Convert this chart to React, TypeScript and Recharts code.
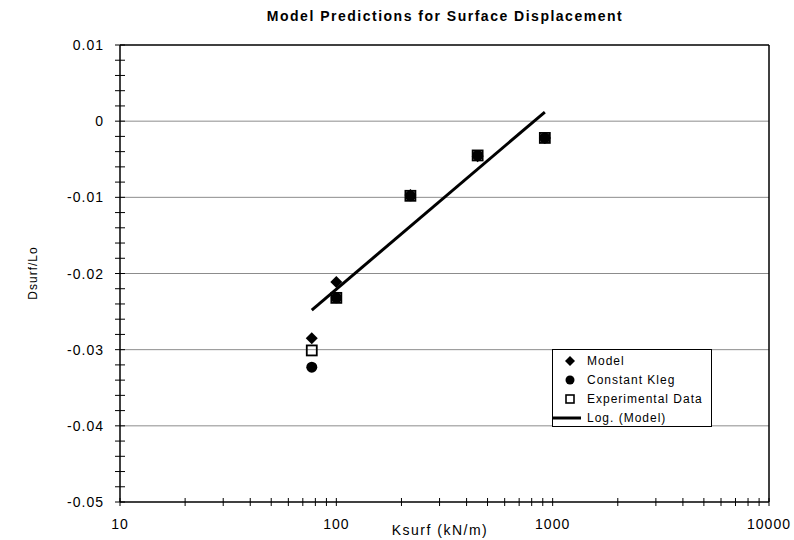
import { ScatterChart, Scatter, XAxis, YAxis, ReferenceLine } from "recharts";

// Ksurf (kN/m) of each test
const ksurf = [77, 100, 220, 450, 920];
// Dsurf/Lo
const model = [-0.0285, -0.0211, -0.0097, -0.0046, -0.0022];
const constantKleg = [-0.0323, -0.0232, -0.0098, -0.0045, -0.0022];
const experimental = [-0.0301, -0.0232, -0.0098, -0.0045, -0.0022];
// Log. (Model) trendline, ends
const trendK = [77, 920];
const trendD = [-0.0248, 0.0012];

const xTicks = [
  10, 20, 30, 40, 50, 60, 70, 80, 90,
  100, 200, 300, 400, 500, 600, 700, 800, 900,
  1000, 2000, 3000, 4000, 5000, 6000, 7000, 8000, 9000,
  10000,
];
const xMajor = [10, 100, 1000, 10000];
const yTicks = [
  0.01, 0.008, 0.006, 0.004, 0.002, 0,
  -0.002, -0.004, -0.006, -0.008, -0.01,
  -0.012, -0.014, -0.016, -0.018, -0.02,
  -0.022, -0.024, -0.026, -0.028, -0.03,
  -0.032, -0.034, -0.036, -0.038, -0.04,
  -0.042, -0.044, -0.046, -0.048, -0.05,
];
const yMajor = [0.01, 0, -0.01, -0.02, -0.03, -0.04, -0.05];
const gridLines = [0, -0.01, -0.02, -0.03, -0.04];
const legendNames = ["Model", "Constant Kleg", "Experimental Data", "Log. (Model)"];

const FONT = '"Liberation Sans", Arial, sans-serif';

const toPts = (xs: number[], ys: number[]) => xs.map((x, i) => ({ x, y: ys[i] }));

const Diamond = ({ cx, cy }: any) => (
  <path d={`M${cx},${cy - 6}L${cx + 6},${cy}L${cx},${cy + 6}L${cx - 6},${cy}Z`} fill="#000" />
);
const Dot = ({ cx, cy }: any) => <circle cx={cx} cy={cy} r={5.5} fill="#000" />;
const OpenSquare = ({ cx, cy }: any) => (
  <rect x={cx - 5} y={cy - 5} width={10} height={10} fill="none" stroke="#000" strokeWidth={1.8} />
);

const XTick = ({ x, y, payload }: any) => {
  const v = payload.value;
  const major = xMajor.includes(v);
  return (
    <g>
      <line x1={x} x2={x} y1={y - 4} y2={y + 4} stroke="#000" />
      {major && (
        <text x={x} y={y + 27} textAnchor="middle" fontSize={14} letterSpacing={1} fill="#000" fontFamily={FONT}>
          {v}
        </text>
      )}
    </g>
  );
};

const YTick = ({ x, y, payload }: any) => {
  const v = payload.value;
  const major = yMajor.some((m) => Math.abs(m - v) < 1e-9);
  return (
    <g>
      <line x1={x - 5} x2={x + 5} y1={y} y2={y} stroke="#000" />
      {major && (
        <text x={x - 16} y={y + 5} textAnchor="end" fontSize={14} letterSpacing={1} fill="#000" fontFamily={FONT}>
          {Math.abs(v) < 1e-9 ? "0" : String(Number(v.toFixed(2)))}
        </text>
      )}
    </g>
  );
};

const LegendIcon = ({ i }: { i: number }) => (
  <svg width={30} height={16} style={{ display: "block" }}>
    {i === 0 && <path d="M17,3L22,8L17,13L12,8Z" fill="#000" />}
    {i === 1 && <circle cx={17} cy={8} r={4.5} fill="#000" />}
    {i === 2 && <rect x={13} y={4} width={8} height={8} fill="none" stroke="#000" strokeWidth={1.6} />}
    {i === 3 && <line x1={0} x2={28} y1={8} y2={8} stroke="#000" strokeWidth={3} />}
  </svg>
);

export default function App() {
  return (
    <div style={{ position: "absolute", left: 0, top: 0, width: 794, height: 540, background: "#fff", fontFamily: FONT }}>
      <div style={{ position: "absolute", left: 0, width: 890, top: 8, textAlign: "center", fontSize: 14, fontWeight: "bold", letterSpacing: 1.5 }}>
        Model Predictions for Surface Displacement
      </div>
      <ScatterChart width={794} height={540} margin={{ top: 45, right: 25, bottom: 0, left: 0 }}>
        <XAxis
          dataKey="x"
          type="number"
          scale="log"
          domain={[10, 10000]}
          ticks={xTicks}
          interval={0}
          allowDataOverflow
          height={38}
          tickLine={false}
          tickSize={0}
          tickMargin={0}
          tick={<XTick />}
          axisLine={{ stroke: "#000", strokeWidth: 1.5 }}
        />
        <YAxis
          dataKey="y"
          type="number"
          domain={[-0.05, 0.01]}
          ticks={yTicks}
          interval={0}
          allowDataOverflow
          width={120}
          tickLine={false}
          tickSize={0}
          tickMargin={0}
          tick={<YTick />}
          axisLine={{ stroke: "#000", strokeWidth: 1.5 }}
        />
        {gridLines.map((g) => (
          <ReferenceLine key={g} y={g} stroke="#8c8c8c" strokeWidth={1} />
        ))}
        <ReferenceLine y={0.01} stroke="#000" strokeWidth={1.5} />
        <ReferenceLine x={10000} stroke="#000" strokeWidth={1.5} />
        <Scatter
          name={legendNames[3]}
          data={toPts(trendK, trendD)}
          line={{ stroke: "#000", strokeWidth: 3 }}
          shape={() => <g />}
          isAnimationActive={false}
        />
        <Scatter name={legendNames[0]} data={toPts(ksurf, model)} shape={Diamond} isAnimationActive={false} />
        <Scatter name={legendNames[1]} data={toPts(ksurf, constantKleg)} shape={Dot} isAnimationActive={false} />
        <Scatter name={legendNames[2]} data={toPts(ksurf, experimental)} shape={OpenSquare} isAnimationActive={false} />
      </ScatterChart>
      <div
        style={{
          position: "absolute",
          left: 552,
          top: 349,
          width: 160,
          height: 78,
          border: "1px solid #000",
          background: "#fff",
          padding: "1px 0",
          boxSizing: "border-box",
        }}
      >
        {legendNames.map((n, i) => (
          <div key={n} style={{ display: "flex", alignItems: "center", height: 19, fontSize: 12, letterSpacing: 1 }}>
            <LegendIcon i={i} />
            <span style={{ marginLeft: 4 }}>{n}</span>
          </div>
        ))}
      </div>
      <div
        style={{
          position: "absolute",
          left: 33,
          top: 273,
          transform: "translate(-50%, -50%) rotate(-90deg)",
          fontSize: 12,
          letterSpacing: 1,
          whiteSpace: "nowrap",
        }}
      >
        Dsurf/Lo
      </div>
      <div style={{ position: "absolute", left: 0, width: 880, top: 522, textAlign: "center", fontSize: 14, letterSpacing: 1.5 }}>
        Ksurf (kN/m)
      </div>
    </div>
  );
}
